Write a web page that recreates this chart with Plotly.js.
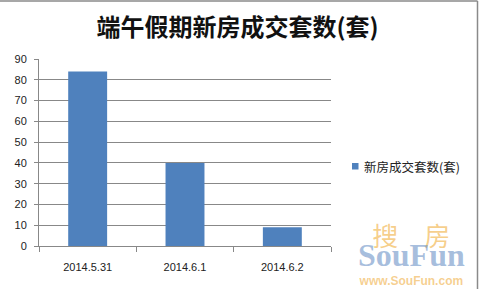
<!DOCTYPE html>
<html>
<head>
<meta charset="utf-8">
<script src="https://cdn.plot.ly/plotly-3.0.1.min.js"></script>
<style>
  html, body { margin: 0; padding: 0; background: #fff; }
  #chart { width: 479px; height: 289px; }
</style>
</head>
<body>
<div id="chart"></div>
<script>
// 端午假期新房成交套数
const dates = ['2014.5.31', '2014.6.1', '2014.6.2'];
const deals = [84, 40, 9];
const seriesName = '新房成交套数(套)';
const yTicks = [0, 10, 20, 30, 40, 50, 60, 70, 80, 90];

const barColor = '#4F81BD';
const gridColor = '#888888';

// plot area in pixels
const W = 479, H = 289;
const L = 39, R = 148, T = 59, B = 43;
const pw = W - L - R, ph = H - T - B;
const px = x => (x - L) / pw;            // pixel x -> paper x
const py = y => (H - B - y) / ph;        // pixel y -> paper y

const traces = [
  {
    type: 'bar',
    x: dates,
    y: deals,
    name: seriesName,
    marker: { color: barColor },
    showlegend: false,
    hoverinfo: 'x+y'
  }
];

const cjk = '"Noto Sans CJK SC", sans-serif';

// SouFun watermark, three lines in one text block
const logoText =
  '<span style="color:rgba(240,170,50,0.75);font-size:26px">搜　房</span><br>' +
  '<span style="font-family:Liberation Serif;font-size:32px;color:rgba(100,140,195,0.75)"><b>SouFun</b></span><br>' +
  '<span style="font-family:Liberation Sans;font-size:12px;color:rgba(240,175,70,0.8)"><b>www.SouFun.com</b></span>';

const layout = {
  width: W,
  height: H,
  margin: { l: L, r: R, t: T, b: B, pad: 0 },
  paper_bgcolor: '#ffffff',
  plot_bgcolor: '#ffffff',
  font: { family: '"Liberation Sans", Arial, sans-serif', size: 11, color: '#222' },
  title: {
    text: '<b>端午假期新房成交套数(套)</b>',
    font: { family: cjk, size: 24, color: '#111' },
    xref: 'container', yref: 'container',
    x: 0.496, y: 1 - 28 / H,
    xanchor: 'center', yanchor: 'middle'
  },
  bargap: 0.6,
  showlegend: false,
  xaxis: {
    type: 'category',
    categoryorder: 'array',
    categoryarray: dates,
    showgrid: false,
    showline: true,
    linecolor: gridColor,
    linewidth: 1,
    ticks: 'outside',
    tickson: 'boundaries',
    ticklen: 5,
    tickcolor: gridColor,
    ticklabelstandoff: 11,
    tickfont: { size: 11, color: '#222' },
    fixedrange: true
  },
  yaxis: {
    range: [0, 90],
    tickvals: yTicks,
    showgrid: true,
    gridcolor: gridColor,
    gridwidth: 1,
    zeroline: false,
    showline: true,
    linecolor: gridColor,
    linewidth: 1,
    ticks: 'outside',
    ticklen: 4,
    tickcolor: gridColor,
    ticklabelstandoff: 5,
    tickfont: { size: 11, color: '#222' },
    fixedrange: true
  },
  shapes: [
    // chart frame: top and right edges
    { type: 'line', xref: 'paper', yref: 'paper', x0: px(0), x1: px(477.5), y0: py(1), y1: py(1),
      line: { color: '#8a8a8a', width: 1.5 } },
    { type: 'line', xref: 'paper', yref: 'paper', x0: px(477.5), x1: px(477.5), y0: py(1), y1: py(289),
      line: { color: '#8a8a8a', width: 1.5 } },
    // legend key
    { type: 'rect', xref: 'paper', yref: 'paper', x0: px(352), x1: px(358.5), y0: py(169.5), y1: py(163),
      fillcolor: barColor, line: { width: 0 } }
  ],
  annotations: [
    // legend label
    { xref: 'paper', yref: 'paper', x: px(362), y: py(166), xanchor: 'left', yanchor: 'middle',
      text: seriesName, showarrow: false,
      font: { family: cjk, size: 12.5, color: '#222' } },
    // watermark
    { xref: 'paper', yref: 'paper', x: px(411.5), y: py(252), xanchor: 'center', yanchor: 'middle',
      align: 'center', text: logoText, showarrow: false,
      font: { family: cjk, size: 15, color: 'rgba(240,170,50,0.75)' } }
  ]
};

Plotly.newPlot('chart', traces, layout, { displayModeBar: false, staticPlot: true });
</script>
</body>
</html>
